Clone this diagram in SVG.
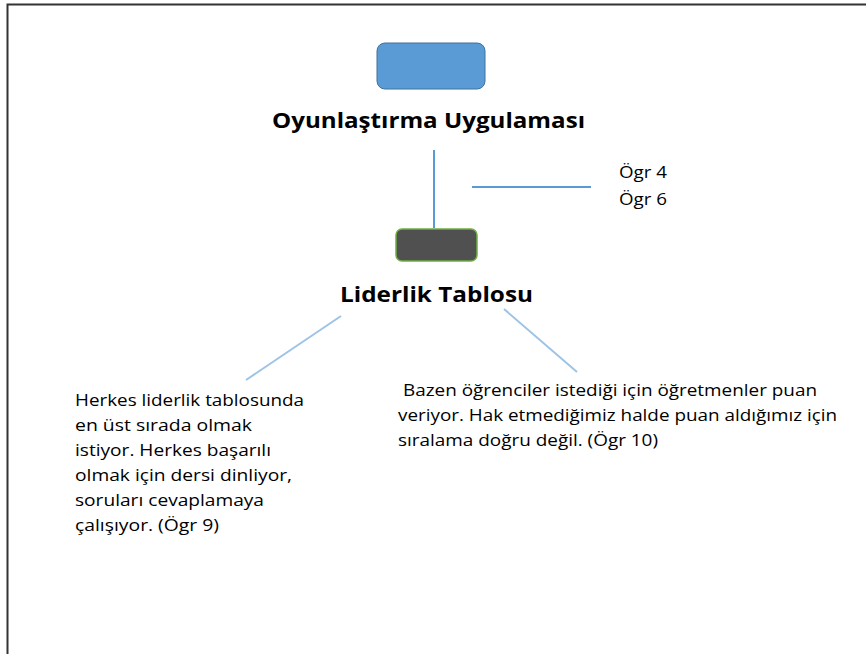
<svg xmlns="http://www.w3.org/2000/svg" width="866" height="654" viewBox="0 0 866 654">
<style>
.t{font-family:"Open Sans","Liberation Sans",sans-serif;fill:#000}
.h{font-weight:bold;font-size:21px}
.b{font-size:16px}
.c{stroke:#5b9bd5;stroke-width:2;fill:none}
.d{stroke:#9dc3e6;stroke-width:2;fill:none}
</style>
<rect x="0" y="0" width="866" height="654" fill="#fff"/>
<path d="M7.5 654 V4.5 H866" fill="none" stroke="#333" stroke-width="2"/>
<g id="connectors">
<line class="c" x1="434" y1="150" x2="434" y2="228"/>
<line class="c" x1="472" y1="187" x2="591" y2="187"/>
<line class="d" x1="341" y1="316" x2="246" y2="380"/>
<line class="d" x1="504" y1="309" x2="577" y2="372"/>
</g>
<g id="node-oyun">
<rect x="377" y="43" width="108" height="46" rx="8" fill="#5b9bd5" stroke="#41719c" stroke-width="1"/>
<text class="t h" x="272" y="128" textLength="313" lengthAdjust="spacingAndGlyphs">Oyunlaştırma Uygulaması</text>
</g>
<g id="node-lider">
<rect x="396" y="229" width="81" height="32" rx="6" fill="#505050" stroke="#70ad47" stroke-width="1.5"/>
<text class="t h" x="340" y="302" textLength="193" lengthAdjust="spacingAndGlyphs">Liderlik Tablosu</text>
</g>
<g id="node-ogr46">
<text class="t b" x="619" y="178" textLength="48" lengthAdjust="spacingAndGlyphs">Ögr 4</text>
<text class="t b" x="619" y="205" textLength="48" lengthAdjust="spacingAndGlyphs">Ögr 6</text>
</g>
<g id="node-ogr9">
<text class="t b" x="75" y="406" textLength="229" lengthAdjust="spacingAndGlyphs">Herkes liderlik tablosunda</text>
<text class="t b" x="75" y="431" textLength="177" lengthAdjust="spacingAndGlyphs">en üst sırada olmak</text>
<text class="t b" x="75" y="456" textLength="196" lengthAdjust="spacingAndGlyphs">istiyor. Herkes başarılı</text>
<text class="t b" x="75" y="481" textLength="217" lengthAdjust="spacingAndGlyphs">olmak için dersi dinliyor,</text>
<text class="t b" x="75" y="506" textLength="189" lengthAdjust="spacingAndGlyphs">soruları cevaplamaya</text>
<text class="t b" x="75" y="531" textLength="144" lengthAdjust="spacingAndGlyphs">çalışıyor. (Ögr 9)</text>
</g>
<g id="node-ogr10">
<text class="t b" x="403" y="396" textLength="414" lengthAdjust="spacingAndGlyphs">Bazen öğrenciler istediği için öğretmenler puan</text>
<text class="t b" x="398" y="421" textLength="439" lengthAdjust="spacingAndGlyphs">veriyor. Hak etmediğimiz halde puan aldığımız için</text>
<text class="t b" x="398" y="446" textLength="260" lengthAdjust="spacingAndGlyphs">sıralama doğru değil. (Ögr 10)</text>
</g>
</svg>
